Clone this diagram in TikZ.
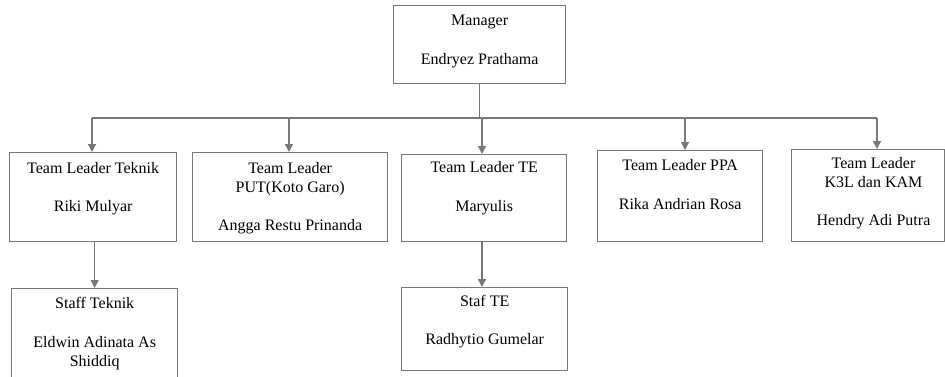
\documentclass[tikz,border=0pt]{standalone}
\usepackage{fontspec}
\setmainfont{Liberation Serif}
\usetikzlibrary{arrows.meta}
\definecolor{ln}{RGB}{120,120,120}
\begin{document}
\begin{tikzpicture}[x=0.75pt,y=-0.75pt,
  box/.style={draw=ln, line width=1pt, fill=white, inner sep=0pt, anchor=north west},
  txt/.style={anchor=north, align=center, inner sep=0pt, font=\fontsize{12}{14.4}\selectfont},
  conn/.style={draw=ln, line width=1pt},
  arr/.style={conn, -{Triangle[length=6pt,width=6pt]}}]
\useasboundingbox (0,0) rectangle (945,376);
\clip (0,0) rectangle (945,376);
\fill[white] (0,0) rectangle (945,376);
% boxes
\node[box, minimum width=172*0.75pt, minimum height=78*0.75pt] (m) at (393,5) {};
\node[box, minimum width=167*0.75pt, minimum height=89*0.75pt] (b1) at (9,152) {};
\node[box, minimum width=195*0.75pt, minimum height=89*0.75pt] (b2) at (192,152) {};
\node[box, minimum width=165*0.75pt, minimum height=87*0.75pt] (b3) at (401,154) {};
\node[box, minimum width=165*0.75pt, minimum height=91*0.75pt] (b4) at (597,150) {};
\node[box, minimum width=153*0.75pt, minimum height=92*0.75pt] (b5) at (791,149) {};
\node[box, minimum width=166*0.75pt, minimum height=95*0.75pt] (b6) at (11,288) {};
\node[box, minimum width=166*0.75pt, minimum height=83*0.75pt] (b7) at (401,287) {};
% texts
\node[txt] (tm) at ([yshift=-7.5pt]m.north) {Manager\\[14.4pt]Endryez Prathama};
\node[txt] (t1) at ([yshift=-7.5pt]b1.north) {Team Leader Teknik\\[14.4pt]Riki Mulyar};
\node[txt] (t2) at ([yshift=-7.5pt]b2.north) {Team Leader\\PUT(Koto Garo)\\[14.4pt]Angga Restu Prinanda};
\node[txt] (t3) at ([yshift=-5.5pt]b3.north) {Team Leader TE\\[14.4pt]Maryulis};
\node[txt] (t4) at ([yshift=-7pt]b4.north) {Team Leader PPA\\[14.4pt]Rika Andrian Rosa};
\node[txt] (t5) at ([yshift=-6pt,xshift=4pt]b5.north) {Team Leader\\K3L dan KAM\\[14.4pt]Hendry Adi Putra};
\node[txt] (t6) at ([yshift=-7pt]b6.north) {Staff Teknik\\[14.4pt]Eldwin Adinata As\\Shiddiq};
\node[txt] (t7) at ([yshift=-6pt]b7.north) {Staf TE\\[14.4pt]Radhytio Gumelar};
% connectors
\coordinate (j1) at (92,118);
\coordinate (j2) at (289,118);
\coordinate (j3) at (482,118);
\coordinate (j4) at (685,118);
\coordinate (j5) at (877,118);
\draw[conn] (m.south) -- (m.south |- j3);
\draw[conn] (j1) -- (j5);
\draw[arr] (j1) -- (j1 |- b1.north);
\draw[arr] (j2) -- (j2 |- b2.north);
\draw[arr] (j3) -- (j3 |- b3.north);
\draw[arr] (j4) -- (j4 |- b4.north);
\draw[arr] (j5) -- (j5 |- b5.north);
\draw[arr] (b1.south -| b6.north) -- (b6.north);
\draw[arr] (b3.south -| j3) -- (j3 |- b7.north);
\end{tikzpicture}
\end{document}
